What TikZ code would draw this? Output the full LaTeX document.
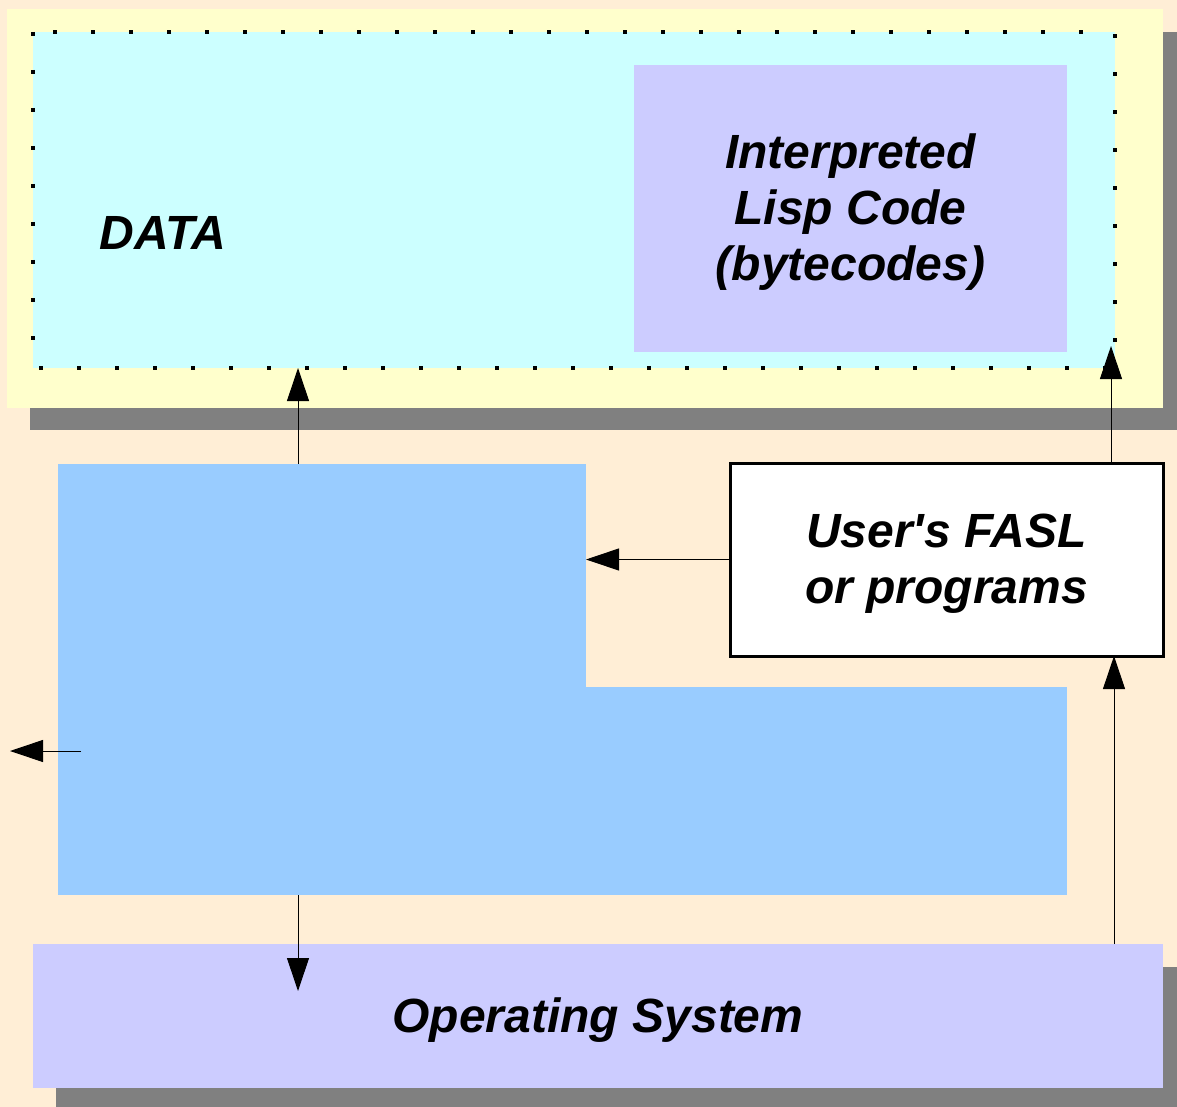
\documentclass[tikz,border=0pt]{standalone}
\usepackage{fontspec}
\setmainfont{Liberation Sans}
\usetikzlibrary{arrows.meta}
\definecolor{bgpeach}{RGB}{255,238,214}
\definecolor{panelyellow}{RGB}{255,255,204}
\definecolor{datacyan}{RGB}{204,255,255}
\definecolor{lav}{RGB}{204,204,255}
\definecolor{heapblue}{RGB}{153,204,255}
\definecolor{shadowgray}{RGB}{128,128,128}
\begin{document}
\begin{tikzpicture}[x=1pt,y=-1pt,
  box/.style={rectangle,inner sep=0pt,outer sep=0pt,draw=none},
  lbl/.style={font=\fontsize{48}{56}\selectfont\bfseries\itshape,align=center,text=black,inner sep=0pt},
  dotborder/.style={draw=black,line width=4pt,dash pattern=on 4pt off 34pt},
  arr/.style={line width=1pt,draw=black,-{Triangle[length=33pt,width=22pt]}},
]
% page background
\fill[bgpeach] (0,0) rectangle (1177,1107);
\useasboundingbox (0,0) rectangle (1177,1107);

% drop shadows
\fill[shadowgray] (30,32) rectangle (1177,430);
\fill[shadowgray] (56,967) rectangle (1177,1107);

% upper panel with the data area
\node[box,fill=panelyellow,minimum width=1156pt,minimum height=399pt] (panel) at (585,208.5) {};
\node[box,fill=datacyan,minimum width=1082pt,minimum height=336pt] (data) at (574,200) {};
\draw[dotborder] (data.north west) rectangle (data.south east);
\node[box,fill=lav,minimum width=433pt,minimum height=287pt] (interp) at (850.5,208.5) {};
\node[lbl] (interpText) at ([yshift=-4pt]interp.center) {Interpreted\\Lisp Code\\(bytecodes)};
\node[lbl] (datalbl) at (163,233) {DATA};

% L-shaped block, built from two parts
\node[box,fill=heapblue,minimum width=528pt,minimum height=224pt] (heapA) at (322,576) {};
\node[box,fill=heapblue,minimum width=1009pt,minimum height=208pt] (heapB) at (562.5,791) {};

% user programs
\node[box,fill=white,draw=black,line width=3pt,minimum width=433pt,minimum height=193pt] (fasl) at (946.5,559.5) {};
\node[lbl] (faslText) at ([yshift=-4pt]fasl.center) {User\textquotesingle s FASL\\or programs};

% operating system
\node[box,fill=lav,minimum width=1130pt,minimum height=144pt] (os) at (598,1016) {};
\node[lbl] (osText) at ([yshift=-4pt]os.center) {Operating System};

% free end of the leftward arrow
\coordinate (exitL) at (10,751);

% connectors
\draw[arr] ([xshift=240pt]heapA.north west) -- ([xshift=265pt]data.south west);
\draw[arr] ([xshift=-52pt]fasl.north east) -- ([xshift=-4pt,yshift=22pt]data.south east);
\draw[arr] (fasl.west) -- (fasl.west -| heapA.east);
\draw[arr] ([xshift=23pt,yshift=40pt]heapB.west) -- (exitL);
\draw[arr] ([xshift=240pt]heapB.south west) -- ([xshift=265pt,yshift=-47pt]os.north west);
\draw[arr] ([xshift=-49pt]os.north east) -- ([xshift=-49pt]fasl.south east);
\end{tikzpicture}
\end{document}
